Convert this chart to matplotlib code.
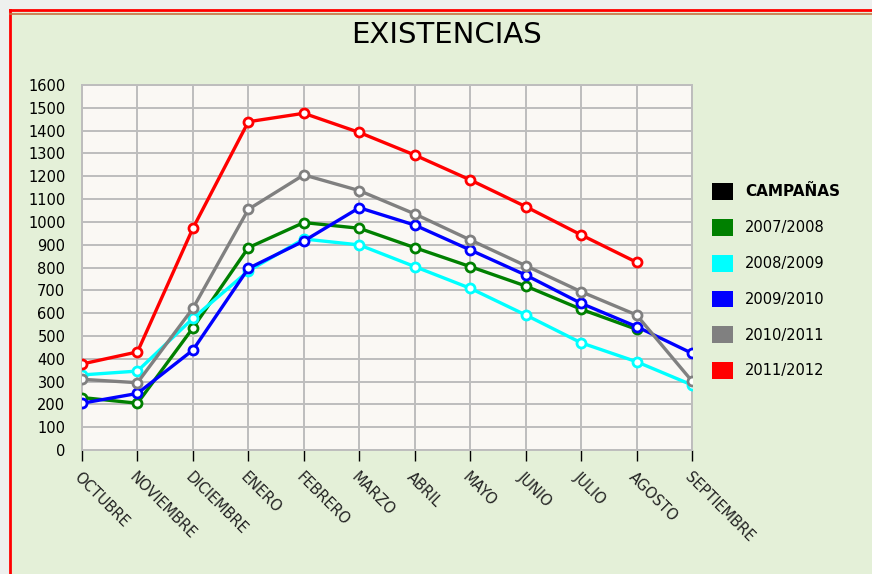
import numpy as np
import matplotlib
matplotlib.use("Agg")
import matplotlib.pyplot as plt
from matplotlib.patches import Rectangle, Patch
from matplotlib.transforms import ScaledTranslation

# datos
meses = ["OCTUBRE", "NOVIEMBRE", "DICIEMBRE", "ENERO", "FEBRERO", "MARZO",
         "ABRIL", "MAYO", "JUNIO", "JULIO", "AGOSTO", "SEPTIEMBRE"]
campanas = ["2007/2008", "2008/2009", "2009/2010", "2010/2011", "2011/2012"]
colores = ["#008000", "#00ffff", "#0000ff", "#808080", "#ff0000"]

c2007 = [230, 205, 535, 887, 997, 972, 887, 804, 719, 617, 529, np.nan]
c2008 = [329, 346, 577, 785, 925, 899, 804, 709, 592, 470, 387, 285]
c2009 = [205, 248, 438, 796, 916, 1062, 986, 877, 767, 643, 541, 424]
c2010 = [310, 295, 621, 1055, 1206, 1137, 1035, 921, 808, 694, 592, 302]
c2011 = [377, 430, 972, 1439, 1476, 1392, 1293, 1184, 1067, 943, 823, np.nan]
series = [c2007, c2008, c2009, c2010, c2011]

yticks = list(range(0, 1700, 100))

fig = plt.figure(figsize=(8.72, 5.74), dpi=100)
fig.patch.set_facecolor("#eef0ee")

# fondo verde con marco rojo
fondo = Rectangle((10 / 872, 0), 1, 1 - 10 / 574, transform=fig.transFigure,
                  facecolor="#e4f0d8", edgecolor="none", zorder=-5)
fig.add_artist(fondo)
fig.add_artist(plt.Line2D([10 / 872, 10 / 872], [0, 1 - 10 / 574], color="red",
                          lw=2, transform=fig.transFigure, zorder=-4))
fig.add_artist(plt.Line2D([10 / 872, 1], [1 - 10 / 574, 1 - 10 / 574], color="red",
                          lw=2, transform=fig.transFigure, zorder=-4))
fig.add_artist(plt.Line2D([10 / 872, 1], [1 - 14 / 574, 1 - 14 / 574], color="#c87040",
                          lw=1.2, transform=fig.transFigure, zorder=-4))

ax = fig.add_axes([82 / 872, 1 - 450 / 574, 610 / 872, 365 / 574])
ax.set_zorder(2)
ax.set_facecolor("#faf8f4")

x = np.arange(len(meses))
for vals, col in zip(series, colores):
    ax.plot(x, vals, color=col, lw=2.4, marker="o", markersize=6.5,
            markerfacecolor="white", markeredgecolor=col, markeredgewidth=2,
            zorder=3)

ax.set_xlim(0, len(meses) - 1)
ax.set_ylim(0, 1600)
ax.set_yticks(yticks)
ax.set_yticklabels([str(v) for v in yticks], fontsize=10.5)
ax.set_xticks(x)
ax.set_xticklabels(meses, fontsize=10.5, rotation=-45, ha="left", va="top",
                   rotation_mode="anchor", color="#222222")
desplaza = ScaledTranslation(-9 / 100, -5 / 100, fig.dpi_scale_trans)
for lab in ax.get_xticklabels():
    lab.set_transform(lab.get_transform() + desplaza)
ax.tick_params(axis="y", length=0, pad=12)
ax.tick_params(axis="x", length=8, width=1, color="black", pad=6)
ax.grid(True, color="#bdbdbd", lw=1.4, zorder=1)
ax.set_axisbelow(True)
for s in ax.spines.values():
    s.set_color("#bdbdbd")
    s.set_linewidth(1.4)

fig.text(447 / 872, 1 - 35 / 574, "EXISTENCIAS", ha="center", va="center",
         fontsize=21, color="black")

handles = [Patch(facecolor="black", edgecolor="none")]
handles += [Patch(facecolor=c, edgecolor="none") for c in colores]
labels = ["CAMPAÑAS"] + campanas
leg = fig.legend(handles, labels, loc="upper left",
                 bbox_to_anchor=(699 / 872, 1 - 170 / 574), frameon=False,
                 fontsize=10.5, handlelength=1.4, handleheight=1.4,
                 handletextpad=0.85, labelspacing=1.3)
leg.get_texts()[0].set_fontweight("bold")
leg.get_texts()[0].set_fontsize(11)

fig.savefig("out.png", dpi=100, facecolor=fig.get_facecolor())
